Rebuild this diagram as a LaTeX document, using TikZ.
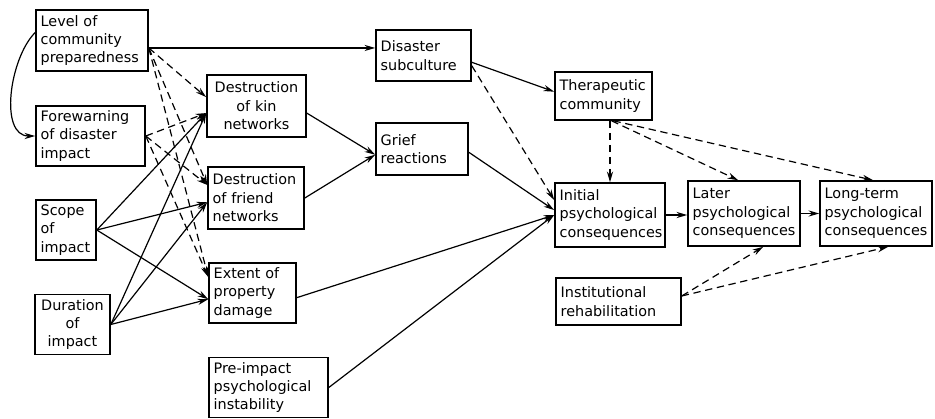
\documentclass[tikz,border=0pt]{standalone}
\usepackage{fontspec}
\setmainfont{DejaVu Sans}
\usetikzlibrary{arrows.meta}

\tikzset{
  box/.style={draw, line width=1.2pt, font=\fontsize{10.8}{13.8}\selectfont, inner sep=3.5pt, align=left},
  arr/.style={-{Stealth[length=8pt,width=4.6pt]}, line width=0.9pt},
  darr/.style={arr, dash pattern=on 5.5pt off 3.5pt},
}

\begin{document}
\begin{tikzpicture}[x=0.75pt, y=-0.75pt]
    \useasboundingbox (0,0) rectangle (935,418);

    % left column: conditions of the disaster
    \node[box, text width=77pt, minimum height=45.75pt] (lev) at (92,40.5) {Level of\\community\\preparedness};
    \node[box, text width=74.75pt, minimum height=43.5pt] (warn) at (90.5,136) {Forewarning\\of disaster\\impact};
    \node[box, text width=38pt, minimum height=42pt] (scope) at (66,230) {Scope\\of\\impact};
    \node[box, align=center, text width=49.25pt, minimum height=41.25pt] (dur) at (72.5,324.5) {Duration\\of\\impact};

    % losses
    \node[box, align=center, text width=67.25pt, minimum height=46.5pt] (kin) at (256.5,106) {Destruction\\of kin\\networks};
    \node[box, text width=65pt, minimum height=46.5pt] (friend) at (256,198) {Destruction\\of friend\\networks};
    \node[box, text width=58.25pt, minimum height=45pt] (prop) at (252.5,293) {Extent of\\property\\damage};
    \node[box, text width=82.25pt, minimum height=44.25pt] (preinst) at (268.5,387.5) {Pre-impact\\psychological\\instability};

    % community response
    \node[box, text width=64.25pt, minimum height=38.25pt] (subcult) at (423.5,55.5) {Disaster\\subculture};
    \node[box, text width=62pt, minimum height=39pt] (grief) at (422,149) {Grief\\reactions};
    \node[box, text width=65.75pt, minimum height=36pt] (thera) at (603.5,96) {Therapeutic\\community};
    \node[box, text width=86.75pt, minimum height=35.25pt] (rehab) at (618.5,301.5) {Institutional\\rehabilitation};

    % consequences
    \node[box, text width=75.5pt, minimum height=48pt] (init) at (610,215) {Initial\\psychological\\consequences};
    \node[box, text width=77pt, minimum height=48.75pt] (later) at (744,213.5) {Later\\psychological\\consequences};
    \node[box, text width=77pt, minimum height=48.75pt] (longterm) at (876,213.5) {Long-term\\psychological\\consequences};

    % preparedness links
    \coordinate (lp) at ([yshift=-5.6pt]lev.east);
    \draw[arr] ([yshift=6pt]lev.west) to[out=225, in=180, looseness=0.9] (warn.west);
    \draw[arr] (lp) -- (lp -| subcult.west);
    \draw[darr] (lp) -- (kin.170);
    \draw[darr] (lp) -- (friend.165);
    \draw[darr] (lp) -- (prop.160);
    \draw[darr] (warn.east) -- (kin.188);
    \draw[darr] (warn.east) -- (friend.165);
    \draw[darr] (warn.east) -- (prop.160);

    % scope and duration
    \foreach \src in {scope, dur} {
        \draw[arr] (\src.east) -- (kin.188);
        \draw[arr] (\src.east) -- (friend.185);
        \draw[arr] (\src.east) -- (prop.188);
    }

    % middle links
    \draw[arr] (kin.-8) -- (grief.187);
    \draw[arr] (friend.east) -- (grief.187);
    \draw[arr] (subcult.-8) -- (thera.175);
    \draw[darr] (subcult.-12) -- (init.165);
    \draw[arr] (grief.-4) -- (init.175);
    \draw[arr] (prop.-6) -- (init.west);
    \draw[arr] (preinst.east) -- (init.west);

    % right part
    \draw[arr] (init.east) -- (init.east -| later.west);
    \draw[arr] (later.east) -- (longterm.west);
    \draw[darr] (init.north |- thera.south) -- (init.north);
    \draw[darr] (thera.-72) -- (later.100);
    \draw[darr] (thera.-68) -- (longterm.95);
    \draw[darr] (rehab.5) -- (later.-60);
    \draw[darr] (rehab.5) -- (longterm.-70);

\end{tikzpicture}
\end{document}
